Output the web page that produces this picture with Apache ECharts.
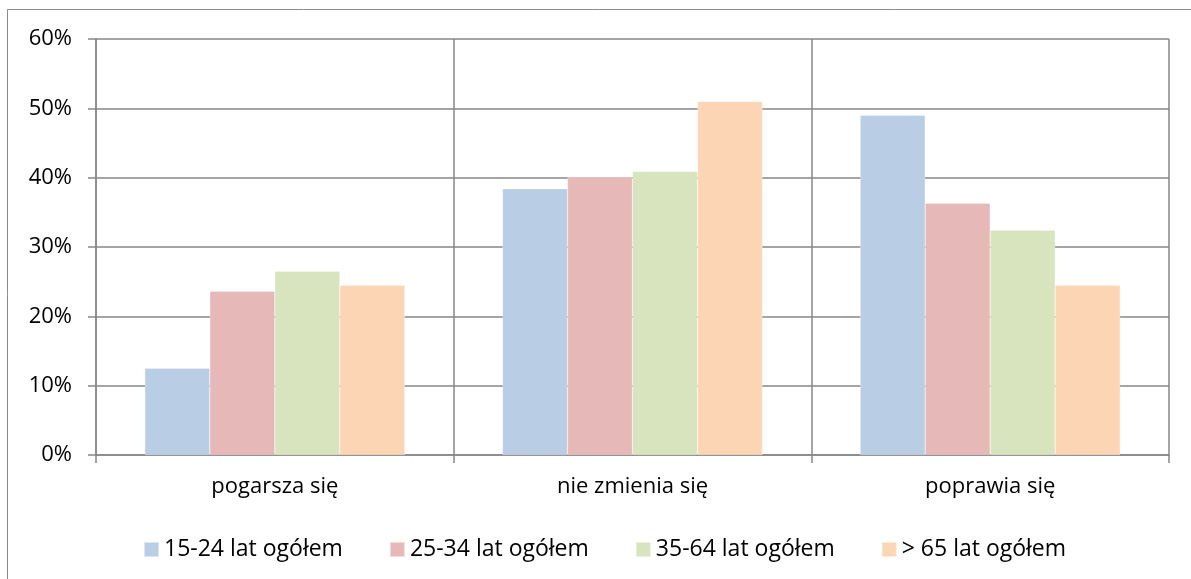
<!DOCTYPE html>
<html>
<head>
<meta charset="utf-8">
<script src="https://cdn.jsdelivr.net/npm/echarts@6/dist/echarts.min.js"></script>
<style>
html,body{margin:0;padding:0;background:#fff;}
#chart{width:1191px;height:579px;}
</style>
</head>
<body>
<div id="chart"></div>
<script>
const categories = ['pogarsza się', 'nie zmienia się', 'poprawia się'];
const seriesNames = ['15-24 lat ogółem', '25-34 lat ogółem', '35-64 lat ogółem', '> 65 lat ogółem'];
const s1524 = [0.125, 0.384, 0.490];
const s2534 = [0.236, 0.401, 0.363];
const s3564 = [0.265, 0.409, 0.324];
const s65 = [0.245, 0.510, 0.245];
const yTicks = [0, 0.1, 0.2, 0.3, 0.4, 0.5, 0.6];
const colors = ['#B9CDE5', '#E6B9B8', '#D7E4BD', '#FCD5B5'];

const FONT = 'Open Sans';
const GRAY = '#878787';
const values = [s1524, s2534, s3564, s65];

const chart = echarts.init(document.getElementById('chart'), null, {renderer: 'canvas'});
chart.setOption({
  backgroundColor: '#fff',
  animation: false,
  textStyle: {fontFamily: FONT},
  graphic: [
    {type: 'line', shape: {x1: 7.5, y1: 9.5, x2: 1191, y2: 9.5}, style: {stroke: '#8c8c8c', lineWidth: 1}},
    {type: 'line', shape: {x1: 7.5, y1: 9.5, x2: 7.5, y2: 579}, style: {stroke: '#8c8c8c', lineWidth: 1}}
  ],
  grid: {left: 96, right: 22, top: 39, bottom: 124, containLabel: false},
  legend: {
    data: seriesNames,
    left: 138, top: 533,
    itemWidth: 15, itemHeight: 15, itemGap: 46,
    icon: 'rect',
    textStyle: {fontFamily: FONT, fontSize: 23, color: '#000'}
  },
  xAxis: {
    type: 'category',
    data: categories,
    axisLine: {lineStyle: {color: GRAY, width: 1.5}},
    axisTick: {show: true, length: 8, lineStyle: {color: GRAY, width: 1.5}},
    splitLine: {show: true, lineStyle: {color: GRAY, width: 1.5}},
    axisLabel: {fontFamily: FONT, fontSize: 22, color: '#000', margin: 21}
  },
  yAxis: {
    type: 'value',
    min: yTicks[0], max: yTicks[yTicks.length - 1], interval: 0.1,
    axisLine: {show: true, lineStyle: {color: GRAY, width: 1.5}},
    axisTick: {show: true, length: 8, lineStyle: {color: GRAY, width: 1.5}},
    splitLine: {show: true, lineStyle: {color: GRAY, width: 1.5}},
    axisLabel: {fontFamily: FONT, fontSize: 22, color: '#000', margin: 24,
      formatter: v => Math.round(v * 100) + '%'}
  },
  series: seriesNames.map((n, i) => ({
    name: n,
    type: 'bar',
    data: values[i],
    barGap: '0%',
    barCategoryGap: '27.3%',
    itemStyle: {color: colors[i], borderColor: 'rgba(255,255,255,0.5)', borderWidth: 0.5}
  }))
});
</script>
</body>
</html>
